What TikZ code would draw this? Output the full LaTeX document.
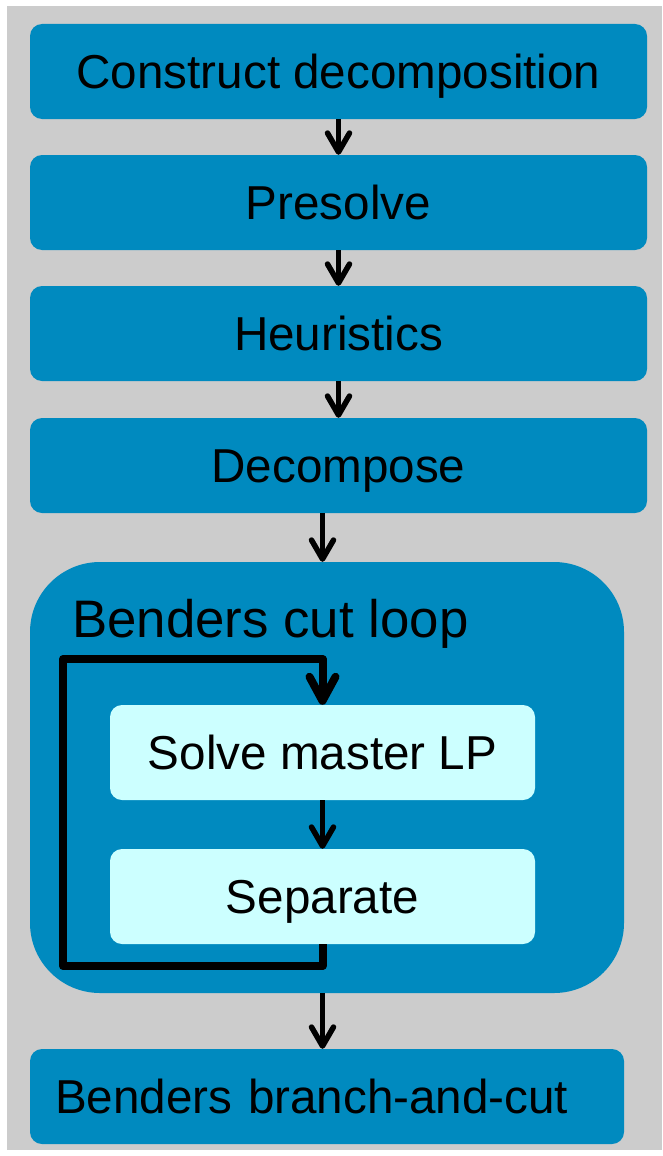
\documentclass[tikz,border=0pt]{standalone}
\usepackage{fontspec}
\setmainfont{Liberation Sans}
\usetikzlibrary{arrows.meta}
\definecolor{bgray}{HTML}{CCCCCC}
\definecolor{bblue}{HTML}{008ABF}
\definecolor{bcyan}{HTML}{CCFFFF}
\tikzset{
  stepbox/.style={fill=bblue, draw=none, rounded corners=12pt, inner sep=0pt,
    minimum height=95pt, text height=34.7pt, text depth=0pt,
    font=\fontsize{47.6}{57}\selectfont},
  innerbox/.style={stepbox, fill=bcyan},
  arr/.style={line width=5.5pt, -{Straight Barb[length=19pt,width=22pt,round]}},
  loopline/.style={line width=8pt, line join=round, -{Straight Barb[length=24pt,width=26pt,round]}},
}
\begin{document}
\begin{tikzpicture}[x=1pt,y=-1pt]
\useasboundingbox (0,0) rectangle (662,1156);
\fill[white] (0,0) rectangle (662,1156);
\fill[bgray] (7,6) rectangle (662,1150);

\node[stepbox, minimum width=617pt] (b1) at (338.5,71.5) {Construct decomposition};
\node[stepbox, minimum width=617pt] (b2) at (338.5,202.5) {Presolve};
\node[stepbox, minimum width=617pt] (b3) at (338.5,333.5) {Heuristics};
\node[stepbox, minimum width=617pt] (b4) at (338.5,465.5) {Decompose};

\node[fill=bblue, rounded corners=70pt, inner sep=0pt, minimum width=594pt, minimum height=431pt] (big) at (327,777.5) {};
\node[anchor=base west, inner sep=0pt, font=\fontsize{52.8}{60}\selectfont] (looplabel) at (72,637) {Benders cut loop};

\node[innerbox, minimum width=425pt] (solve) at (322.5,752.5) {Solve master LP};
\node[innerbox, minimum width=425pt] (sep) at (322.5,896.5) {Separate};

\node[stepbox, text width=544pt, inner xsep=25pt, align=left] (final) at (327,1096.5) {Benders branch-and-cut};

\draw[arr] (b1) -- (b2);
\draw[arr] (b2) -- (b3);
\draw[arr] (b3) -- (b4);
\draw[arr] (b4.south -| solve.north) -- (big.north -| solve.north);
\draw[arr] (solve) -- (sep);
\draw[arr] (big.south -| sep.south) -- (final.north -| sep.south);

\coordinate (lb) at (63,966);
\coordinate (lt) at (63,659);
\draw[loopline] (sep.south) |- (lb) -- (lt) -| (solve.north);
\end{tikzpicture}
\end{document}
